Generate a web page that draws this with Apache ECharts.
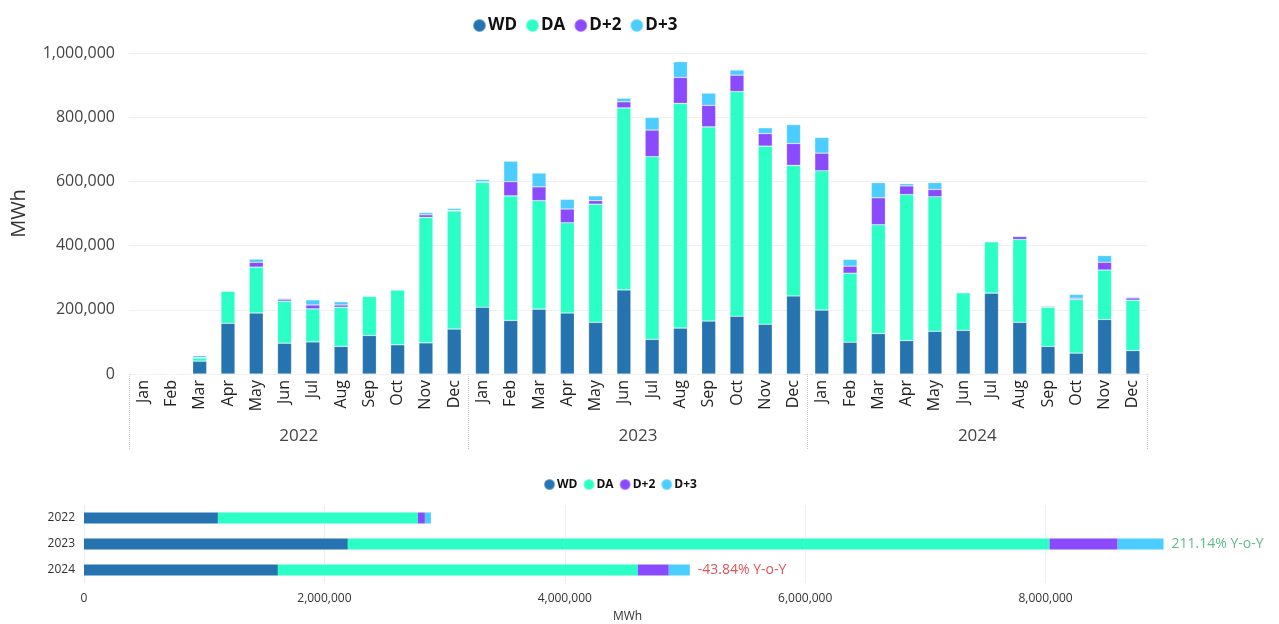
<!DOCTYPE html>
<html><head><meta charset="utf-8">
<script src="https://cdn.jsdelivr.net/npm/echarts@6/dist/echarts.min.js"></script>
<style>html,body{margin:0;padding:0;background:#fff}#c{width:1279px;height:624px}</style>
</head><body><div id="c"></div>
<script>
const months = ['Jan','Feb','Mar','Apr','May','Jun','Jul','Aug','Sep','Oct','Nov','Dec'];
const years = ['2022','2023','2024'];
const monthCats = [].concat(...years.map(y => months.map(m => m + ' ' + y)));

const WD = [0,0,40000,158000,190000,96000,100000,86000,120000,91000,97000,140000,
  208000,167000,202000,190000,161000,262000,108000,143000,165000,180000,155000,243000,
  199000,99000,126000,104000,133000,136000,252000,161000,86000,65000,170000,73000];
const DA = [0,0,10000,100000,143000,131000,103000,122000,122000,171000,391000,368000,
  389000,388000,338000,281000,368000,567000,569000,700000,605000,700000,555000,407000,
  434000,215000,339000,455000,419000,117000,160000,258000,122000,167000,154000,157000];
const D2 = [0,0,1000,1000,15000,6000,12000,7000,1000,0,8000,2000,
  2000,44000,43000,43000,11000,19000,83000,81000,67000,51000,39000,68000,
  55000,22000,84000,27000,23000,1000,0,9000,3000,4000,24000,7000];
const D3 = [0,0,6000,1000,10000,3000,16000,10000,2000,1000,7000,6000,
  7000,64000,43000,30000,15000,11000,39000,49000,38000,16000,18000,59000,
  49000,21000,47000,7000,21000,2000,1000,3000,1000,12000,21000,3000];

const yearWD = [1114000, 2195000, 1613000];
const yearDA = [1664000, 5838000, 2994000];
const yearD2 = [58000, 566000, 258000];
const yearD3 = [50000, 382000, 175000];
const yoy = ['', '211.14%', '-43.84%'];

const yTicksTop = {min:0, max:1000000, interval:200000};
const xTicksBottom = {min:0, max:10000000, interval:2000000};

const colors = {WD:'#2574B0', DA:'#2BFFC6', 'D+2':'#8A4BFF', 'D+3':'#4BCDFF'};
const names = ['WD','DA','D+2','D+3'];
const fmt = v => Number(v).toLocaleString('en-US');
const FONT = 'Open Sans';

const topData = [WD, DA, D2, D3];
const botData = [yearWD, yearDA, yearD2, yearD3];

const series = [];
names.forEach((n, i) => {
  series.push({
    name: n, type: 'bar', stack: 'm', xAxisIndex: 0, yAxisIndex: 0,
    barWidth: 14, data: topData[i],
    itemStyle: {color: colors[n], borderColor: 'rgba(255,255,255,0.35)', borderWidth: 0.6},
    emphasis: {disabled: true}
  });
});
names.forEach((n, i) => {
  const s = {
    name: n, type: 'bar', stack: 'y', xAxisIndex: 2, yAxisIndex: 1,
    barWidth: 11, data: botData[i],
    itemStyle: {color: colors[n]},
    emphasis: {disabled: true}
  };
  if (i === 3) {
    s.data = botData[i].map((v, k) => ({
      value: v,
      label: {
        show: yoy[k] !== '',
        position: 'right', distance: 8,
        formatter: yoy[k] + ' Y-o-Y',
        color: yoy[k].startsWith('-') ? '#E0535A' : '#5DBB8C',
        fontSize: 14, fontFamily: FONT
      }
    }));
  }
  series.push(s);
});

const chart = echarts.init(document.getElementById('c'), null, {renderer: 'canvas'});
chart.setOption({
  animation: false,
  textStyle: {fontFamily: FONT},
  title: {text: 'MWh', left: 608, top: 606, textStyle: {fontSize: 12, fontWeight: 'normal', color: '#333', fontFamily: FONT}},
  legend: [
    {data: names, left: 467, top: 12, icon: 'circle', itemWidth: 13, itemHeight: 13, itemGap: 8,
     textStyle: {fontSize: 17, fontWeight: 'bold', color: '#111', fontFamily: FONT, padding: [0,0,0,-3]}},
    {data: names, left: 538, top: 473, icon: 'circle', itemWidth: 11, itemHeight: 11, itemGap: 5,
     textStyle: {fontSize: 12, fontWeight: 'bold', color: '#111', fontFamily: FONT, padding: [0,0,0,-3]}}
  ],
  grid: [
    {left: 129, right: 132, top: 53, height: 321, containLabel: false, outerBoundsMode: 'none'},
    {left: 84, width: 1202, top: 505, height: 78, containLabel: false, outerBoundsMode: 'none'}
  ],
  xAxis: [
    {type: 'category', gridIndex: 0, data: monthCats, position: 'bottom',
     axisLine: {show: false}, axisTick: {show: false},
     axisLabel: {rotate: 90, interval: 0, fontSize: 16, color: '#222', margin: 6,
       formatter: v => v.split(' ')[0]}},
    {type: 'category', gridIndex: 0, data: years, position: 'bottom',
     axisLine: {show: false},
     axisTick: {show: true, length: 76, lineStyle: {type: 'dotted', color: '#c8c8c8', width: 1}},
     axisLabel: {fontSize: 17, color: '#444', margin: 54}},
    {type: 'value', gridIndex: 1, min: xTicksBottom.min, max: xTicksBottom.max, interval: xTicksBottom.interval,
     axisLine: {show: false}, axisTick: {show: false},
     axisLabel: {fontSize: 12, color: '#333', margin: 10, formatter: fmt, showMaxLabel: false},
     splitLine: {lineStyle: {color: '#eeeeee'}}}
  ],
  yAxis: [
    {type: 'value', gridIndex: 0, min: yTicksTop.min, max: yTicksTop.max, interval: yTicksTop.interval,
     name: 'MWh', nameLocation: 'middle', nameGap: 100, nameRotate: 90,
     nameTextStyle: {fontSize: 20, color: '#333', fontFamily: FONT},
     axisLine: {show: false}, axisTick: {show: false},
     axisLabel: {fontSize: 16, color: '#444', margin: 14, formatter: fmt},
     splitLine: {lineStyle: {color: '#f0f0f0'}}},
    {type: 'category', gridIndex: 1, data: years, inverse: true,
     axisLine: {show: false}, axisTick: {show: false},
     axisLabel: {fontSize: 12, color: '#333', margin: 9}}
  ],
  series: series
});
</script></body></html>
